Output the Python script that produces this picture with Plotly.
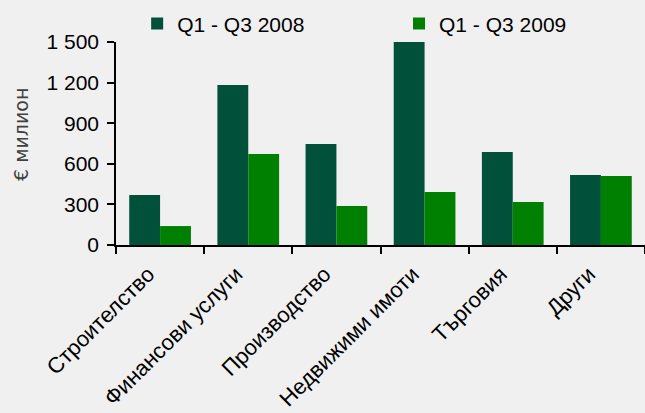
import plotly.graph_objects as go

categories = ["Строителство", "Финансови услуги", "Производство", "Недвижими имоти", "Търговия", "Други"]
series_2008 = [370, 1183, 746, 1500, 687, 517]
series_2009 = [140, 672, 288, 392, 318, 510]
tick_vals = [0, 300, 600, 900, 1200, 1500]

fig = go.Figure()
fig.add_trace(go.Bar(x=categories, y=series_2008, name="Q1 - Q3 2008",
                     marker=dict(color="#00503A", line=dict(width=0)), legend="legend"))
fig.add_trace(go.Bar(x=categories, y=series_2009, name="Q1 - Q3 2009",
                     marker=dict(color="#008000", line=dict(width=0)), legend="legend2"))

leg_common = dict(orientation="h", yanchor="middle", xanchor="left", y=1.089,
                  font=dict(size=21, color="#000"), bgcolor="rgba(0,0,0,0)")

fig.update_layout(
    template="none",
    width=645, height=413,
    paper_bgcolor="#F0F0F0", plot_bgcolor="#F0F0F0",
    font=dict(family="Liberation Sans, Arial", size=21, color="#000000"),
    margin=dict(l=116, r=0, t=42, b=168, autoexpand=False),
    barmode="group", bargap=0.3, bargroupgap=0,
    separators=", ",
    showlegend=True,
    legend=dict(x=0.040, **leg_common),
    legend2=dict(x=0.535, **leg_common),
    xaxis=dict(showline=True, linecolor="#000", linewidth=1.5, ticks="outside",
               tickson="boundaries", ticklen=7, tickcolor="#000", tickwidth=1.5,
               tickangle=-45, tickfont=dict(size=22),
               ticklabelstandoff=6, ticklabelshift=-12, showgrid=False),
    yaxis=dict(range=[0, 1500], tickvals=tick_vals, tickformat=",d", showline=True,
               linecolor="#000", linewidth=1.5, ticks="outside", ticklen=7, tickwidth=1.5,
               tickcolor="#000", showgrid=False, zeroline=False, tickfont=dict(size=21),
               ticklabelstandoff=4),
    annotations=[dict(text="€ милион", xref="paper", yref="paper", x=-0.1796, y=0.547,
                      xanchor="center", yanchor="middle",
                      textangle=-90, showarrow=False,
                      font=dict(family="DejaVu Sans", size=19, color="#404040"))],
)
fig.write_html("out.html", post_script="document.body.style.margin='0';",
               config={"displayModeBar": False})
